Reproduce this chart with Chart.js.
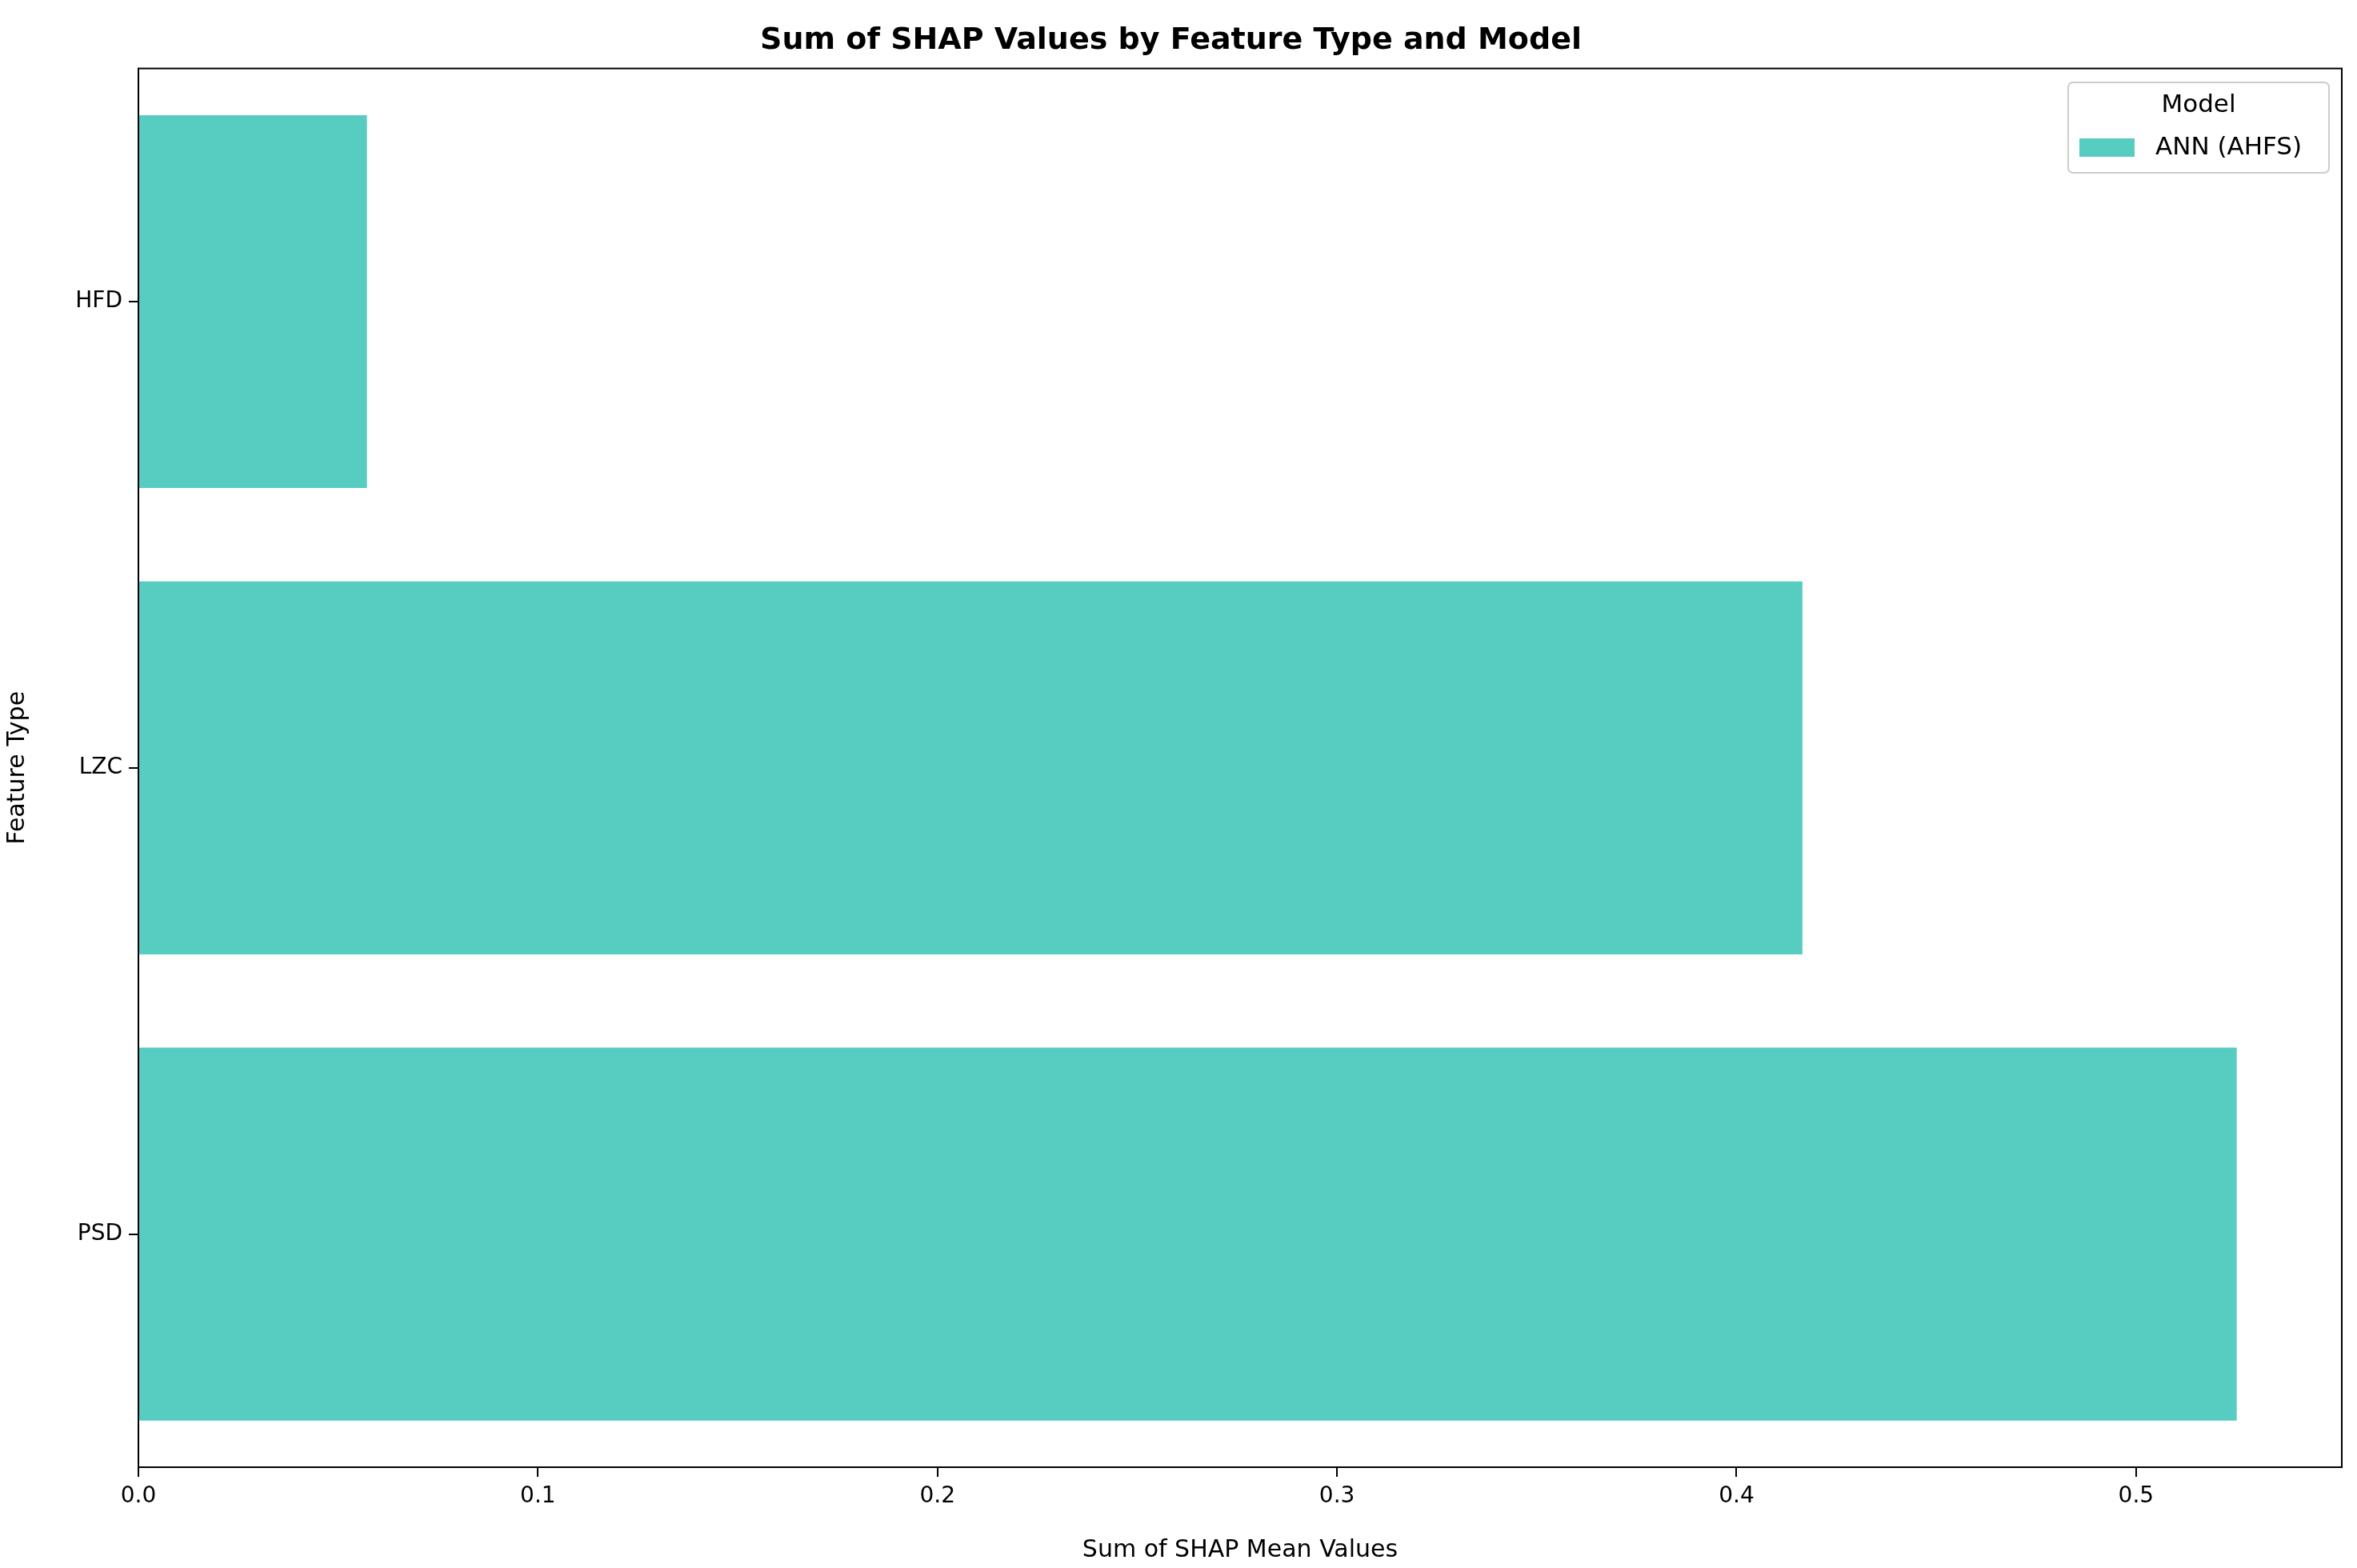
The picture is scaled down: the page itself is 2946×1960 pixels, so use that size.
<!DOCTYPE html>
<html><head><meta charset="utf-8">
<script src="https://cdn.jsdelivr.net/npm/chart.js@4"></script>
<style>html,body{margin:0;padding:0;background:#fff}</style>
</head><body>
<canvas id="c" width="2946" height="1960" style="width:2946px;height:1960px"></canvas>
<script>
const categories = ["HFD", "LZC", "PSD"];
const shapValues = [0.0572, 0.4165, 0.5252];
const seriesName = "ANN (AHFS)";
const xTicks = [0.0, 0.1, 0.2, 0.3, 0.4, 0.5];
const barColor = "#57CCC1";
const FONT = "'DejaVu Sans', sans-serif";

const framePlugin = {
  id: 'frame',
  afterDraw(chart) {
    const {ctx, chartArea: a} = chart;
    ctx.save();
    ctx.strokeStyle = '#000'; ctx.lineWidth = 2;
    ctx.strokeRect(a.left, a.top, a.right - a.left, a.bottom - a.top);
    // legend
    const x = 2585, y = 103, w = 326, h = 113;
    ctx.fillStyle = 'rgba(255,255,255,0.8)';
    ctx.strokeStyle = '#cccccc'; ctx.lineWidth = 2;
    ctx.beginPath(); ctx.roundRect(x, y, w, h, 6); ctx.fill(); ctx.stroke();
    ctx.fillStyle = '#000'; ctx.font = "31px " + FONT;
    ctx.textAlign = 'center'; ctx.textBaseline = 'middle';
    ctx.fillText("Model", x + w / 2, 132);
    ctx.fillStyle = barColor; ctx.fillRect(2599, 173, 69, 23);
    ctx.fillStyle = '#000'; ctx.textAlign = 'left';
    ctx.fillText(seriesName, 2694, 185);
    ctx.restore();
  }
};

new Chart(document.getElementById('c'), {
  type: 'bar',
  data: { labels: categories, datasets: [{ label: seriesName, data: shapValues, backgroundColor: barColor, barPercentage: 0.8, categoryPercentage: 1.0 }] },
  options: {
    indexAxis: 'y', responsive: false, animation: false, devicePixelRatio: 1,
    layout: { padding: { left: 0, right: 19, top: 0, bottom: 0 } },
    plugins: {
      legend: { display: false }, tooltip: { enabled: false },
      title: { display: true, text: "Sum of SHAP Values by Feature Type and Model", color: '#000',
        font: { family: FONT, size: 38 }, padding: { top: 28, bottom: 12 } }
    },
    scales: {
      x: {
        type: 'linear', min: 0, max: 0.5515,
        afterBuildTicks(s) { s.ticks = xTicks.map(v => ({ value: v })); },
        afterFit(s) { s.height = 126; },
        ticks: { color: '#000', font: { family: FONT, size: 28 }, padding: 8, callback: v => v.toFixed(1), maxRotation: 0 },
        grid: { drawOnChartArea: false, drawTicks: true, tickLength: 12, color: '#000', lineWidth: 2 },
        border: { display: true, color: '#000', width: 2 },
        title: { display: true, text: "Sum of SHAP Mean Values", color: '#000', font: { family: FONT, size: 30 }, padding: { top: 4 } }
      },
      y: {
        afterFit(s) { s.width = 173; },
        ticks: { color: '#000', font: { family: FONT, size: 28 }, padding: 8 },
        grid: { drawOnChartArea: false, drawTicks: true, tickLength: 12, color: '#000', lineWidth: 2, offset: false },
        border: { display: true, color: '#000', width: 2 },
        title: { display: true, text: "Feature Type", color: '#000', font: { family: FONT, size: 30 }, padding: { bottom: 4 } }
      }
    }
  },
  plugins: [framePlugin]
});
</script>
</body></html>
